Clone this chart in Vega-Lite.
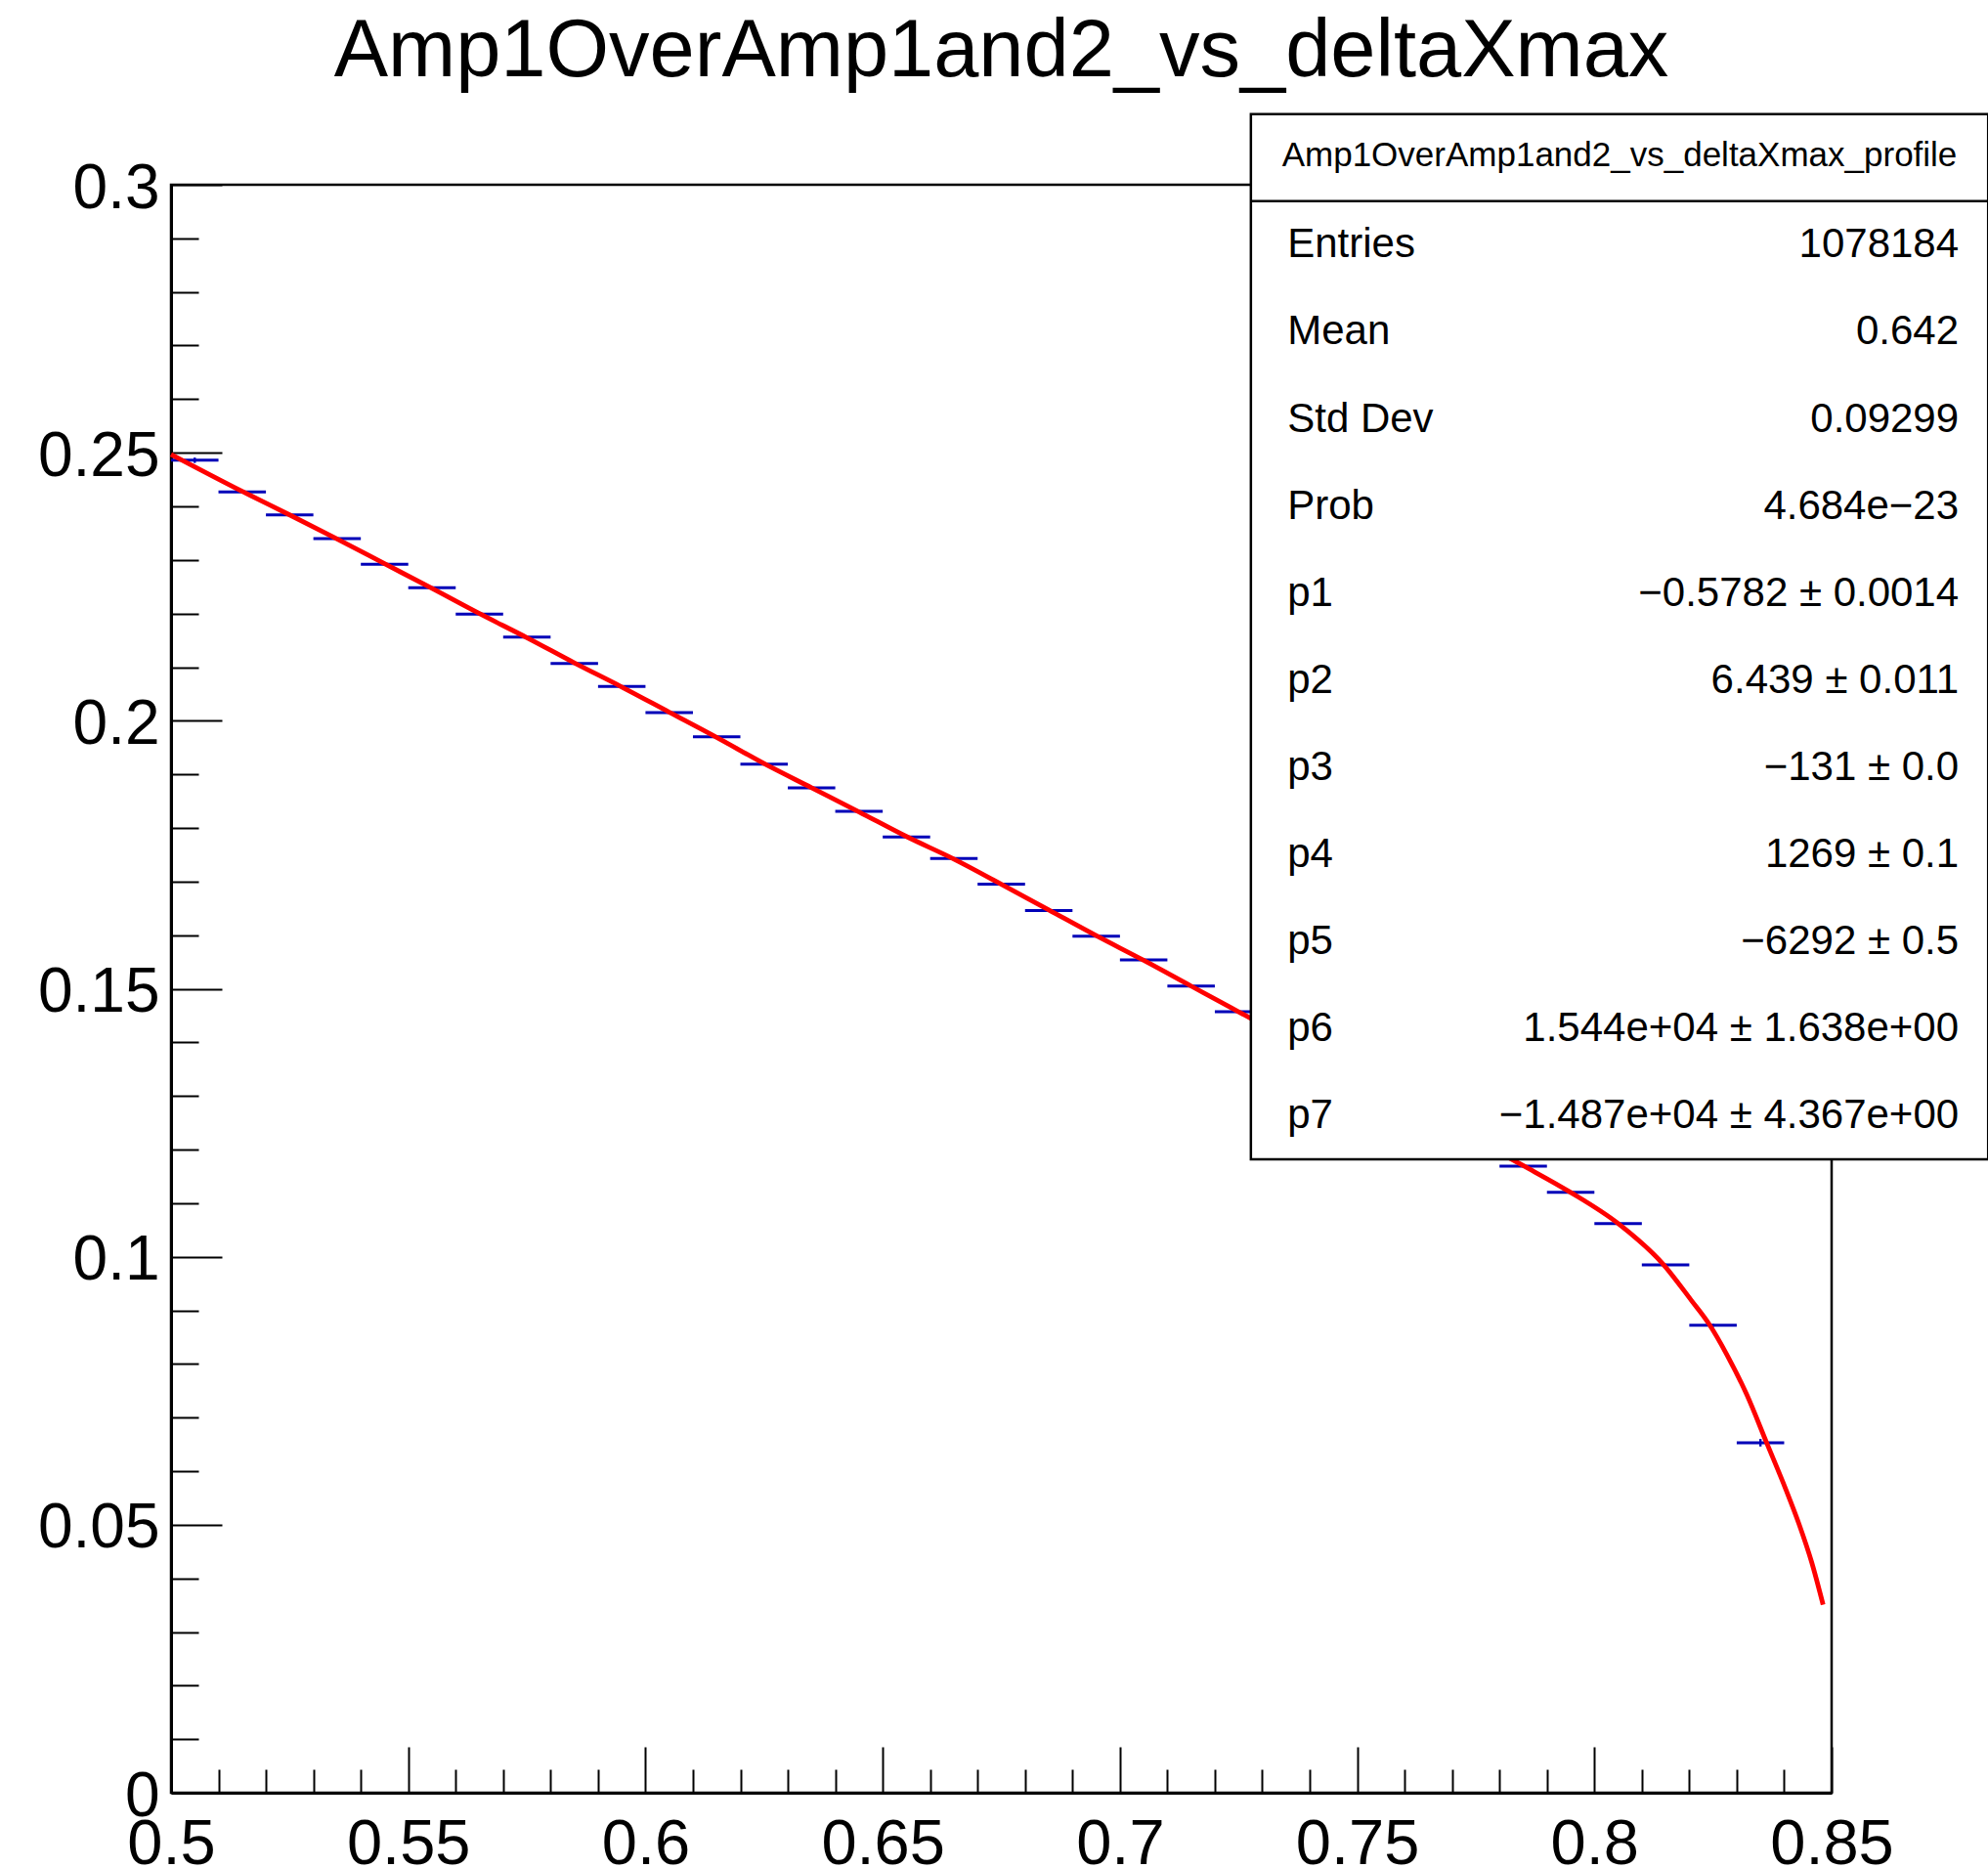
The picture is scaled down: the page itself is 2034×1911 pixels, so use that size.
{
  "$schema": "https://vega.github.io/schema/vega-lite/v6.json",
  "width": 1699,
  "height": 1645,
  "autosize": {"type": "none"},
  "padding": {"left": 175, "top": 189, "right": 160, "bottom": 77},
  "background": "white",
  "config": {
    "view": {"stroke": "black", "strokeWidth": 2.5},
    "font": "Liberation Sans"
  },
  "title": {
    "text": "Amp1OverAmp1and2_vs_deltaXmax",
    "font": "Liberation Sans",
    "fontSize": 83,
    "fontWeight": "normal",
    "color": "black",
    "anchor": "middle",
    "baseline": "alphabetic",
    "offset": -46
  },
  "datasets": {
    "bins": [
      {"xlo": 0.50, "xhi": 0.51, "xc": 0.505, "mean": 0.2486, "err": 0.0005},
      {"xlo": 0.51, "xhi": 0.52, "xc": 0.515, "mean": 0.2427, "err": 0.0001},
      {"xlo": 0.52, "xhi": 0.53, "xc": 0.525, "mean": 0.2384, "err": 0.0001},
      {"xlo": 0.53, "xhi": 0.54, "xc": 0.535, "mean": 0.2340, "err": 0.0001},
      {"xlo": 0.54, "xhi": 0.55, "xc": 0.545, "mean": 0.2292, "err": 0.0001},
      {"xlo": 0.55, "xhi": 0.56, "xc": 0.555, "mean": 0.2248, "err": 0.0001},
      {"xlo": 0.56, "xhi": 0.57, "xc": 0.565, "mean": 0.2199, "err": 0.0001},
      {"xlo": 0.57, "xhi": 0.58, "xc": 0.575, "mean": 0.2156, "err": 0.0001},
      {"xlo": 0.58, "xhi": 0.59, "xc": 0.585, "mean": 0.2107, "err": 0.0001},
      {"xlo": 0.59, "xhi": 0.60, "xc": 0.595, "mean": 0.2064, "err": 0.0001},
      {"xlo": 0.60, "xhi": 0.61, "xc": 0.605, "mean": 0.2015, "err": 0.0001},
      {"xlo": 0.61, "xhi": 0.62, "xc": 0.615, "mean": 0.1970, "err": 0.0001},
      {"xlo": 0.62, "xhi": 0.63, "xc": 0.625, "mean": 0.1919, "err": 0.0001},
      {"xlo": 0.63, "xhi": 0.64, "xc": 0.635, "mean": 0.1875, "err": 0.0001},
      {"xlo": 0.64, "xhi": 0.65, "xc": 0.645, "mean": 0.1831, "err": 0.0001},
      {"xlo": 0.65, "xhi": 0.66, "xc": 0.655, "mean": 0.1783, "err": 0.0001},
      {"xlo": 0.66, "xhi": 0.67, "xc": 0.665, "mean": 0.1743, "err": 0.0001},
      {"xlo": 0.67, "xhi": 0.68, "xc": 0.675, "mean": 0.1695, "err": 0.0001},
      {"xlo": 0.68, "xhi": 0.69, "xc": 0.685, "mean": 0.1646, "err": 0.0001},
      {"xlo": 0.69, "xhi": 0.70, "xc": 0.695, "mean": 0.1598, "err": 0.0001},
      {"xlo": 0.70, "xhi": 0.71, "xc": 0.705, "mean": 0.1554, "err": 0.0001},
      {"xlo": 0.71, "xhi": 0.72, "xc": 0.715, "mean": 0.1505, "err": 0.0001},
      {"xlo": 0.72, "xhi": 0.73, "xc": 0.725, "mean": 0.1457, "err": 0.0001},
      {"xlo": 0.78, "xhi": 0.79, "xc": 0.785, "mean": 0.1169, "err": 0.0001},
      {"xlo": 0.79, "xhi": 0.80, "xc": 0.795, "mean": 0.1120, "err": 0.0001},
      {"xlo": 0.80, "xhi": 0.81, "xc": 0.805, "mean": 0.1062, "err": 0.0002},
      {"xlo": 0.81, "xhi": 0.82, "xc": 0.815, "mean": 0.0985, "err": 0.0002},
      {"xlo": 0.82, "xhi": 0.83, "xc": 0.825, "mean": 0.0872, "err": 0.0003},
      {"xlo": 0.83, "xhi": 0.84, "xc": 0.835, "mean": 0.0653, "err": 0.0007}
    ],
    "fit": [
      {"x": 0.500, "y": 0.2497},
      {"x": 0.515, "y": 0.2428},
      {"x": 0.525, "y": 0.2384},
      {"x": 0.535, "y": 0.2339},
      {"x": 0.545, "y": 0.2293},
      {"x": 0.555, "y": 0.2247},
      {"x": 0.565, "y": 0.2200},
      {"x": 0.575, "y": 0.2155},
      {"x": 0.585, "y": 0.2108},
      {"x": 0.595, "y": 0.2063},
      {"x": 0.605, "y": 0.2016},
      {"x": 0.615, "y": 0.1969},
      {"x": 0.625, "y": 0.1920},
      {"x": 0.635, "y": 0.1875},
      {"x": 0.645, "y": 0.1830},
      {"x": 0.655, "y": 0.1784},
      {"x": 0.665, "y": 0.1742},
      {"x": 0.675, "y": 0.1695},
      {"x": 0.685, "y": 0.1647},
      {"x": 0.695, "y": 0.1599},
      {"x": 0.705, "y": 0.1553},
      {"x": 0.715, "y": 0.1505},
      {"x": 0.725, "y": 0.1457},
      {"x": 0.745, "y": 0.1361},
      {"x": 0.765, "y": 0.1265},
      {"x": 0.785, "y": 0.1170},
      {"x": 0.795, "y": 0.1120},
      {"x": 0.805, "y": 0.1062},
      {"x": 0.8145, "y": 0.0986},
      {"x": 0.8204, "y": 0.0919},
      {"x": 0.8242, "y": 0.0874},
      {"x": 0.8280, "y": 0.0816},
      {"x": 0.8321, "y": 0.0743},
      {"x": 0.8363, "y": 0.0653},
      {"x": 0.8403, "y": 0.0567},
      {"x": 0.8431, "y": 0.0502},
      {"x": 0.8458, "y": 0.0430},
      {"x": 0.8482, "y": 0.0351}
    ],
    "stats": [
      {"row": 0, "label": "Entries", "value": "1078184"},
      {"row": 1, "label": "Mean", "value": "0.642"},
      {"row": 2, "label": "Std Dev", "value": "0.09299"},
      {"row": 3, "label": "Prob", "value": "4.684e−23"},
      {"row": 4, "label": "p1", "value": "−0.5782 ± 0.0014"},
      {"row": 5, "label": "p2", "value": "6.439 ± 0.011"},
      {"row": 6, "label": "p3", "value": "−131 ± 0.0"},
      {"row": 7, "label": "p4", "value": "1269 ± 0.1"},
      {"row": 8, "label": "p5", "value": "−6292 ± 0.5"},
      {"row": 9, "label": "p6", "value": "1.544e+04 ± 1.638e+00"},
      {"row": 10, "label": "p7", "value": "−1.487e+04 ± 4.367e+00"}
    ]
  },
  "resolve": {"scale": {"x": "independent", "y": "independent"}},
  "layer": [
    {
      "resolve": {"axis": {"x": "independent", "y": "independent"}},
      "layer": [
        {
          "data": {"name": "bins"},
          "mark": {"type": "rule", "color": "#0000b8", "strokeWidth": 3},
          "encoding": {
            "x": {
              "field": "xlo", "type": "quantitative",
              "scale": {"domain": [0.5, 0.85], "nice": false, "zero": false},
              "axis": {
                "orient": "bottom",
                "values": [0.5, 0.55, 0.6, 0.65, 0.7, 0.75, 0.8, 0.85],
                "format": "~g",
                "title": null,
                "grid": false,
                "domain": true, "domainColor": "black", "domainWidth": 3,
                "ticks": true, "tickColor": "black", "tickWidth": 2, "tickSize": -47,
                "labelFont": "Liberation Sans", "labelFontSize": 65, "labelColor": "black",
                "labelBaseline": "alphabetic", "labelPadding": 119,
                "labelFlush": false, "labelOverlap": false, "labelBound": false
              }
            },
            "x2": {"field": "xhi"},
            "y": {
              "field": "mean", "type": "quantitative",
              "scale": {"domain": [0, 0.3], "nice": false, "zero": false},
              "axis": {
                "orient": "left",
                "values": [0, 0.05, 0.1, 0.15, 0.2, 0.25, 0.3],
                "format": "~g",
                "title": null,
                "grid": false,
                "domain": true, "domainColor": "black", "domainWidth": 3,
                "ticks": true, "tickColor": "black", "tickWidth": 2, "tickSize": -52,
                "labelFont": "Liberation Sans", "labelFontSize": 64, "labelColor": "black",
                "labelAlign": "right", "labelBaseline": "alphabetic", "labelOffset": 23, "labelPadding": 64,
                "labelFlush": false, "labelOverlap": false, "labelBound": false
              }
            }
          }
        },
        {
          "data": {"name": "bins"},
          "mark": {"type": "errorbar", "ticks": false, "color": "#0000b8", "thickness": 2.4},
          "encoding": {
            "x": {"field": "xc", "type": "quantitative", "axis": null},
            "y": {"field": "mean", "type": "quantitative", "axis": null},
            "yError": {"field": "err"}
          }
        },
        {
          "data": {"name": "fit"},
          "mark": {"type": "line", "color": "#ff0000", "strokeWidth": 4.8, "interpolate": "monotone"},
          "encoding": {
            "x": {
              "field": "x", "type": "quantitative",
              "axis": {
                "orient": "bottom",
                "values": [0.51, 0.52, 0.53, 0.54, 0.56, 0.57, 0.58, 0.59, 0.61, 0.62, 0.63, 0.64, 0.66, 0.67, 0.68, 0.69, 0.71, 0.72, 0.73, 0.74, 0.76, 0.77, 0.78, 0.79, 0.81, 0.82, 0.83, 0.84],
                "title": null, "grid": false, "domain": false, "labels": false,
                "ticks": true, "tickColor": "black", "tickWidth": 2, "tickSize": -24
              }
            },
            "y": {
              "field": "y", "type": "quantitative",
              "axis": {
                "orient": "left",
                "values": [0.01, 0.02, 0.03, 0.04, 0.06, 0.07, 0.08, 0.09, 0.11, 0.12, 0.13, 0.14, 0.16, 0.17, 0.18, 0.19, 0.21, 0.22, 0.23, 0.24, 0.26, 0.27, 0.28, 0.29],
                "title": null, "grid": false, "domain": false, "labels": false,
                "ticks": true, "tickColor": "black", "tickWidth": 2, "tickSize": -28
              }
            }
          }
        }
      ]
    },
    {
      "layer": [
        {
          "data": {"values": [{}]},
          "mark": {"type": "rect", "fill": "white", "stroke": "black", "strokeWidth": 2.5},
          "encoding": {
            "x": {"datum": 0.7276, "type": "quantitative", "scale": {"domain": [0.5, 0.85], "nice": false, "zero": false}, "axis": null},
            "x2": {"datum": 0.883},
            "y": {"datum": -1.5, "type": "quantitative", "scale": {"domain": [-0.689, 17.773], "reverse": true, "nice": false, "zero": false}, "axis": null},
            "y2": {"datum": 10.5}
          }
        },
        {
          "data": {"values": [{}]},
          "mark": {"type": "rule", "color": "black", "strokeWidth": 2.5},
          "encoding": {
            "x": {"datum": 0.7276, "type": "quantitative"},
            "x2": {"datum": 0.883},
            "y": {"datum": -0.5, "type": "quantitative"}
          }
        },
        {
          "data": {"values": [{}]},
          "mark": {"type": "text", "text": "Amp1OverAmp1and2_vs_deltaXmax_profile", "font": "Liberation Sans", "fontSize": 35, "align": "center", "baseline": "middle", "color": "black"},
          "encoding": {
            "x": {"datum": 0.8053, "type": "quantitative"},
            "y": {"datum": -1.03, "type": "quantitative"}
          }
        },
        {
          "data": {"name": "stats"},
          "mark": {"type": "text", "font": "Liberation Sans", "fontSize": 42, "align": "left", "baseline": "middle", "color": "black"},
          "encoding": {
            "x": {"datum": 0.7353, "type": "quantitative"},
            "y": {"field": "row", "type": "quantitative"},
            "text": {"field": "label"}
          }
        },
        {
          "data": {"name": "stats"},
          "mark": {"type": "text", "font": "Liberation Sans", "fontSize": 42, "align": "right", "baseline": "middle", "color": "black"},
          "encoding": {
            "x": {"datum": 0.8768, "type": "quantitative"},
            "y": {"field": "row", "type": "quantitative"},
            "text": {"field": "value"}
          }
        }
      ]
    }
  ]
}
